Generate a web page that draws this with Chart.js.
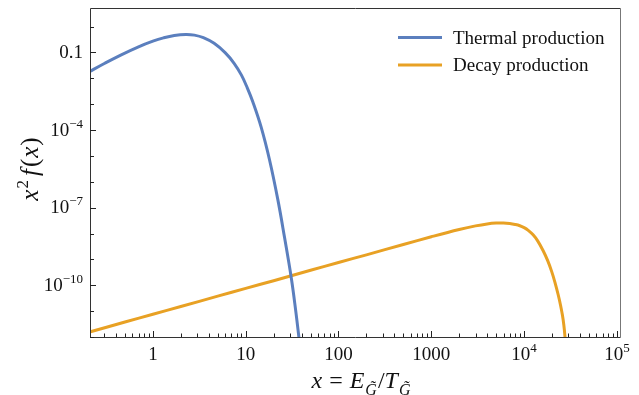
<!DOCTYPE html>
<html>
<head>
<meta charset="utf-8">
<script src="https://cdn.jsdelivr.net/npm/chart.js@4.4.1/dist/chart.umd.min.js"></script>
<style>
    html, body { margin: 0; padding: 0; background: #fff; }
    #wrap { width: 639px; height: 395px; }
</style>
</head>
<body>
<div id="wrap"><canvas id="spectrumChart"></canvas></div>
<script>
// values
const thermalX = [0.2, 0.3, 0.45, 0.7, 1.0, 1.3, 1.7, 2.26, 2.8, 3.5, 4.57, 6.0, 7.5, 9.0, 10.4, 11.9, 14.7, 18.1, 22.2, 26.2, 31.0, 34.5, 37.4, 40]
const thermalY = [0.0169, 0.0373, 0.0791, 0.165, 0.272, 0.365, 0.452, 0.495, 0.466, 0.372, 0.224, 0.0977, 0.038, 0.0132, 4.27e-3, 1.26e-3, 1.26e-4, 6.8e-6, 2.04e-7, 7.1e-9, 1.9e-10, 1.12e-11, 1e-12, 1.1e-13]

const decayX = [0.2, 0.5, 1, 2, 5, 10, 20, 50, 100, 200, 500, 1000, 2000, 3000, 4000, 5000, 6000, 7000, 8000, 9000, 10000, 11000, 12500, 14000, 16000, 18000, 19800, 21500, 23300, 24700, 25900, 26800, 27500, 28000]
const decayY = [1.5e-12, 3.8e-12, 7.6e-12, 1.5e-11, 3.8e-11, 7.6e-11, 1.5e-10, 3.8e-10, 7.6e-10, 1.5e-9, 3.78e-9, 7.46e-9, 1.42e-8, 1.97e-8, 2.35e-8, 2.54e-8, 2.56e-8, 2.44e-8, 2.24e-8, 2.0e-8, 1.69e-8, 1.36e-8, 8.9e-9, 5.18e-9, 2.2e-9, 8.75e-10, 3.44e-10, 1.3e-10, 4.29e-11, 1.69e-11, 6.86e-12, 2.92e-12, 1.16e-12, 4.3e-13]

const xTickValues = [1, 10, 100, 1000, 1e4, 1e5]
const xTickLabels = ['1', '10', '100', '1000', '10^4', '10^5']
const yTickValues = [0.1, 1e-4, 1e-7, 1e-10]
const yTickLabels = ['0.1', '10^−4', '10^−7', '10^−10']

const seriesNames = ['Thermal production', 'Decay production']
const seriesColors = ['#5b7fbe', '#e8a124']

const FONT = '"Liberation Serif", "DejaVu Serif", serif'

function toPoints(xs, ys) {
    return xs.map((x, i) => ({ x: x, y: ys[i] }))
}

// draws a run of text pieces, pieces may be italic / superscript / subscript
function drawRich(ctx, parts, x, y, align, size) {
    const fontOf = p => (p.it ? 'italic ' : '') + ((p.sup || p.sub) ? Math.round(size * 0.68) : size) + 'px ' + FONT
    let total = 0
    parts.forEach(p => {
        ctx.font = fontOf(p)
        p.w = ctx.measureText(p.t).width
        total += p.w + (p.gap || 0)
    })
    let cx = align === 'right' ? x - total : align === 'center' ? x - total / 2 : x
    ctx.textAlign = 'left'
    ctx.textBaseline = 'alphabetic'
    parts.forEach(p => {
        ctx.font = fontOf(p)
        let dy = p.sup ? -size * 0.42 : p.sub ? size * 0.28 : 0
        ctx.fillText(p.t, cx, y + dy)
        cx += p.w + (p.gap || 0)
    })
}

function labelParts(label) {
    const bits = label.split('^')
    const parts = [{ t: bits[0] }]
    if (bits[1]) parts.push({ t: bits[1], sup: true })
    return parts
}

const axisDecor = {
    id: 'axisDecor',
    afterDraw(chart) {
        const ctx = chart.ctx
        const area = chart.chartArea
        const xs = chart.scales.x
        const ys = chart.scales.y
        ctx.save()

        // frame
        ctx.lineWidth = 1
        ctx.strokeStyle = '#333'
        ctx.beginPath()
        ctx.moveTo(area.left + 0.5, area.top + 0.5)
        ctx.lineTo(area.left + 0.5, area.bottom + 0.5)
        ctx.lineTo(area.right + 0.5, area.bottom + 0.5)
        ctx.moveTo(area.left + 0.5, area.top + 0.5)
        ctx.lineTo(area.right + 0.5, area.top + 0.5)
        ctx.stroke()
        ctx.strokeStyle = '#777'
        ctx.beginPath()
        ctx.moveTo(area.right + 0.5, area.top + 0.5)
        ctx.lineTo(area.right + 0.5, area.bottom + 0.5)
        ctx.stroke()

        // x ticks, pointing inward
        ctx.strokeStyle = '#222'
        for (let d = -1; d <= 5; d++) {
            for (let m = 1; m <= 9; m++) {
                const v = m * Math.pow(10, d)
                if (v < xs.min || v > xs.max) continue
                const px = Math.round(xs.getPixelForValue(v)) + 0.5
                const len = m === 1 ? 6 : 3.5
                ctx.beginPath()
                ctx.moveTo(px, area.bottom)
                ctx.lineTo(px, area.bottom - len)
                ctx.stroke()
            }
        }
        // y ticks
        for (let d = -12; d <= 0; d++) {
            const v = Math.pow(10, d)
            if (v < ys.min || v > ys.max) continue
            const py = Math.round(ys.getPixelForValue(v)) + 0.5
            const len = yTickValues.some(t => Math.abs(Math.log10(t) - d) < 1e-6) ? 6 : 4
            ctx.beginPath()
            ctx.moveTo(area.left, py)
            ctx.lineTo(area.left + len, py)
            ctx.stroke()
        }

        // tick labels
        ctx.fillStyle = '#111'
        xTickValues.forEach((v, i) => {
            drawRich(ctx, labelParts(xTickLabels[i]), xs.getPixelForValue(v), area.bottom + 23, 'center', 19)
        })
        yTickValues.forEach((v, i) => {
            drawRich(ctx, labelParts(yTickLabels[i]), area.left - 7, ys.getPixelForValue(v) + 5.5, 'right', 19)
        })

        // axis titles
        drawRich(ctx, [
            { t: 'x', it: true, gap: 1 },
            { t: ' = ', gap: 1 },
            { t: 'E', it: true, gap: 1 },
            { t: 'G\u0303', it: true, sub: true, gap: 1 },
            { t: '/' },
            { t: 'T', it: true, gap: 1 },
            { t: 'G\u0303', it: true, sub: true }
        ], 361, 388, 'center', 24)

        ctx.save()
        ctx.translate(38, 169)
        ctx.rotate(-Math.PI / 2)
        drawRich(ctx, [
            { t: 'x', it: true, gap: 1 },
            { t: '2', sup: true, gap: 4 },
            { t: 'f', it: true, gap: 2 },
            { t: '(', gap: 1 },
            { t: 'x', it: true, gap: 1 },
            { t: ')' }
        ], 0, 0, 'center', 25)
        ctx.restore()

        // legend
        chart.data.datasets.forEach((ds, i) => {
            const ly = 37.5 + i * 27.5
            ctx.strokeStyle = ds.borderColor
            ctx.lineWidth = 3
            ctx.beginPath()
            ctx.moveTo(398, ly)
            ctx.lineTo(442, ly)
            ctx.stroke()
            ctx.fillStyle = '#111'
            drawRich(ctx, [{ t: ds.label }], 453, ly + 6, 'left', 19)
        })

        ctx.restore()
    }
}

document.addEventListener('DOMContentLoaded', () => {
    const ctx = document.getElementById('spectrumChart').getContext('2d')
    const chart = new Chart(ctx, {
        type: 'line',
        data: {
            datasets: [{
                label: seriesNames[0],
                data: toPoints(thermalX, thermalY),
                borderColor: seriesColors[0],
                borderWidth: 3,
                pointRadius: 0,
                tension: 0.4,
                clip: 0
            }, {
                label: seriesNames[1],
                data: toPoints(decayX, decayY),
                borderColor: seriesColors[1],
                borderWidth: 3,
                pointRadius: 0,
                tension: 0.4,
                clip: 0
            }]
        },
        options: {
            responsive: true,
            maintainAspectRatio: false,
            animation: false,
            layout: {
                padding: { top: 8, right: 19, left: 0, bottom: 0 }
            },
            scales: {
                x: {
                    type: 'logarithmic',
                    min: 0.21,
                    max: 1.08e5,
                    grid: { display: false },
                    border: { display: false },
                    ticks: { display: false },
                    afterFit: scale => { scale.height = 58 }
                },
                y: {
                    type: 'logarithmic',
                    min: 1e-12,
                    max: 5.2,
                    grid: { display: false },
                    border: { display: false },
                    ticks: { display: false },
                    afterFit: scale => { scale.width = 90 }
                }
            },
            plugins: {
                legend: { display: false },
                tooltip: { enabled: false }
            }
        },
        plugins: [axisDecor]
    })
})
</script>
</body>
</html>
